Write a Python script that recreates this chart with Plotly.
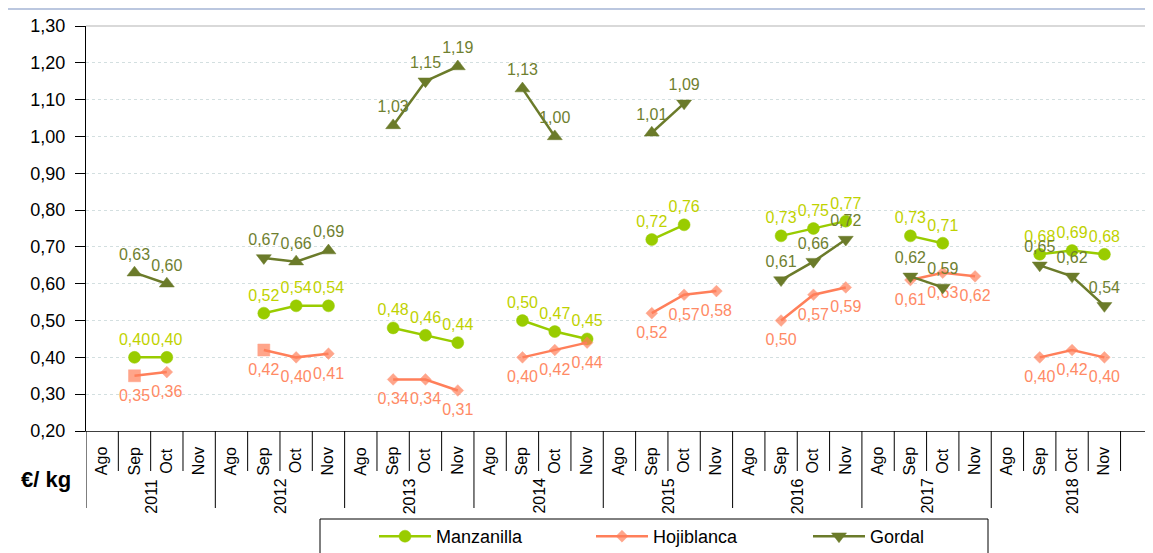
import plotly.graph_objects as go

years = ['2011', '2012', '2013', '2014', '2015', '2016', '2017', '2018']
months = ['Ago', 'Sep', 'Oct', 'Nov']

# values per year: [Ago, Sep, Oct, Nov]
manzanilla = [
    [None, 0.40, 0.40, None],
    [None, 0.52, 0.54, 0.54],
    [None, 0.48, 0.46, 0.44],
    [None, 0.50, 0.47, 0.45],
    [None, 0.72, 0.76, None],
    [None, 0.73, 0.75, 0.77],
    [None, 0.73, 0.71, None],
    [None, 0.68, 0.69, 0.68],
]
hojiblanca = [
    [None, 0.35, 0.36, None],
    [None, 0.42, 0.40, 0.41],
    [None, 0.34, 0.34, 0.31],
    [None, 0.40, 0.42, 0.44],
    [None, 0.52, 0.57, 0.58],
    [None, 0.50, 0.57, 0.59],
    [None, 0.61, 0.63, 0.62],
    [None, 0.40, 0.42, 0.40],
]
gordal = [
    [None, 0.63, 0.60, None],
    [None, 0.67, 0.66, 0.69],
    [None, 1.03, 1.15, 1.19],
    [None, 1.13, 1.00, None],
    [None, 1.01, 1.09, None],
    [None, 0.61, 0.66, 0.72],
    [None, 0.62, 0.59, None],
    [None, 0.65, 0.62, 0.54],
]
# per-point marker symbols as formatted in the original workbook
hoji_symbols = [
    ['diamond', 'square', 'diamond', 'diamond'],
    ['diamond', 'square', 'diamond', 'diamond'],
] + [['diamond'] * 4] * 6
gordal_symbols = [
    ['triangle-down', 'triangle-up', 'triangle-up', 'triangle-down'],
    ['triangle-down', 'triangle-down', 'triangle-up', 'triangle-up'],
    ['triangle-down', 'triangle-up', 'triangle-down', 'triangle-up'],
    ['triangle-down', 'triangle-up', 'triangle-up', 'triangle-down'],
    ['triangle-down', 'triangle-up', 'triangle-down', 'triangle-down'],
] + [['triangle-down'] * 4] * 3

n_slots = len(years) * len(months) + 1  # one trailing empty category

def flat(rows):
    return [v for r in rows for v in r]

xs = [i + 0.5 for i in range(len(years) * len(months))]

FONT = 'Liberation Sans, Arial, sans-serif'
C_MAN = '#99CC00'
C_MAN_T = '#BFD200'
C_HOJ = '#FF7F5A'
C_HOJ_T = '#FF8A65'
C_GOR = '#6B7B2A'
C_GOR_T = '#6F7F30'

fig = go.Figure()

def add_series(name, rows, color, tcolor, symbols, sizes, tpos, label_size=None):
    ys = flat(rows)
    with_text = label_size is None
    fig.add_trace(go.Scatter(
        x=xs, y=ys, name=name,
        mode='lines+markers+text' if with_text else 'lines+markers',
        line=dict(color=color, width=2.5),
        marker=dict(color=color, symbol=symbols, size=sizes,
                    line=dict(width=0.5, color=color)),
        texttemplate='%{y:.2f}' if with_text else None,
        textposition=tpos,
        textfont=dict(color=tcolor, size=16, family=FONT),
        connectgaps=False, cliponaxis=False,
    ))
    if not with_text:
        # data labels placed a bit further from the markers
        fig.add_trace(go.Scatter(
            x=xs, y=ys, name=name, mode='markers+text', showlegend=False,
            marker=dict(size=label_size, opacity=0, color=color),
            texttemplate='%{y:.2f}', textposition=tpos,
            textfont=dict(color=tcolor, size=16, family=FONT),
            cliponaxis=False, hoverinfo='skip',
        ))

add_series('Manzanilla', manzanilla, C_MAN, C_MAN_T, 'circle', 12, 'top center')
hs = flat(hoji_symbols)
add_series('Hojiblanca', hojiblanca, C_HOJ, C_HOJ_T, hs,
           [12 if s == 'square' else 9 for s in hs], 'bottom center', label_size=19)
add_series('Gordal', gordal, C_GOR, C_GOR_T, flat(gordal_symbols), 13, 'top center')

# page has an 8px body margin; the figure starts at page (8, 8).
OFF = 8
W, HT = 1153 - OFF, 553 - OFF
L, T, B = 86 - OFF, 26 - OFF, 431 - OFF      # plot area: page x 86.., y 26..431
PW = W - L
H = float(B - T)
SLOT = 32.33                                  # category width in the reference
x_max = PW / SLOT

def py(pix):
    return (431 - pix) / H

def px(pix):
    return (pix - 86) / PW

shapes = []
annotations = []
# category separators
for b in range(0, n_slots + 1):
    if b > x_max:
        continue
    is_year = (b % 4 == 0 and b < 32) or b == n_slots
    shapes.append(dict(type='line', xref='x', yref='paper', x0=b, x1=b,
                       y0=0, y1=py(508) if is_year else py(471),
                       line=dict(color='#000000', width=1)))
# month labels and year labels
for yi, yr in enumerate(years):
    for mi, m in enumerate(months):
        annotations.append(dict(xref='x', yref='paper', x=yi * 4 + mi + 0.5, y=py(461),
                                xanchor='center', yanchor='middle',
                                text=m, showarrow=False, textangle=-90,
                                font=dict(size=16, family=FONT, color='#000000')))
    span = 5 if yi == len(years) - 1 else 4
    annotations.append(dict(xref='x', yref='paper', x=yi * 4 + span / 2, y=py(496),
                            xanchor='center', yanchor='middle',
                            text=yr, showarrow=False, textangle=-90,
                            font=dict(size=16, family=FONT, color='#000000')))
annotations.append(dict(xref='paper', yref='paper', x=px(46), y=py(480),
                        xanchor='center', yanchor='middle',
                        text='<b>€/ kg</b>', showarrow=False,
                        font=dict(size=22, family=FONT, color='#000000')))
# top border of plot area
shapes.append(dict(type='line', xref='paper', yref='paper', x0=0, x1=1, y0=1, y1=1,
                   line=dict(color='#D9D9D9', width=2)))
# outer chart border (light blue)
shapes.append(dict(type='line', xref='paper', yref='paper', x0=px(7), x1=1.2,
                   y0=py(9), y1=py(9), line=dict(color='#A4B4D4', width=1.5)))
shapes.append(dict(type='line', xref='paper', yref='paper', x0=px(7),
                   x1=px(7), y0=py(9), y1=py(600), line=dict(color='#A4B4D4', width=1.5)))
# legend box
shapes.append(dict(type='rect', xref='paper', yref='paper', x0=px(320),
                   x1=px(988), y0=py(519), y1=py(600),
                   line=dict(color='#000000', width=1)))

fig.update_layout(
    width=W, height=HT,
    margin=dict(l=L, r=0, t=T, b=HT - B, autoexpand=False),
    paper_bgcolor='white', plot_bgcolor='white',
    separators=',.',
    font=dict(family=FONT, color='#000000'),
    xaxis=dict(range=[0, x_max], showticklabels=False, showgrid=False,
               zeroline=False, showline=True, linecolor='#404040', linewidth=1,
               ticks=''),
    yaxis=dict(range=[0.20, 1.30], dtick=0.1, tick0=0.2, tickformat='.2f',
               showgrid=True, gridcolor='#D3DFE0', griddash='3px,3px', gridwidth=1,
               zeroline=False, showline=True, linecolor='#000000', linewidth=1,
               ticks='outside', ticklen=10, tickcolor='#000000', ticklabelstandoff=6,
               tickfont=dict(size=18, family=FONT, color='#000000')),
    showlegend=True,
    legend=dict(orientation='h', x=px(374), y=py(518), xanchor='left',
                yanchor='top', font=dict(size=18, family=FONT, color='#000000'),
                bgcolor='rgba(0,0,0,0)', entrywidth=150, itemwidth=52),
    shapes=shapes, annotations=annotations,
)

fig.write_html('out.html')
